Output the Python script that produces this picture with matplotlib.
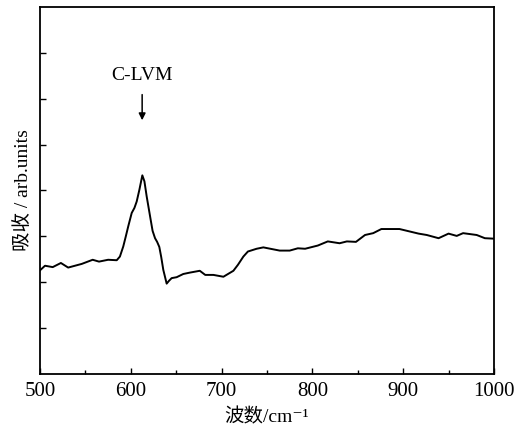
import matplotlib
matplotlib.use('Agg')
import matplotlib.pyplot as plt
import numpy as np

# spectrum
wavenumber = [500, 505.5, 514, 523, 531, 546, 558, 565, 575, 584.5, 588,
              591.7, 594.5, 597.2, 601, 604, 606.5, 609.5, 612.7, 615,
              617.5, 621.9, 624, 626.7, 629, 631.4, 633.5,
              635.8, 639.5, 642, 645, 650.5, 657.8, 665, 676, 682, 691, 702,
              713, 718, 724, 729, 738.6, 746, 764, 775, 784, 792, 806, 817,
              830, 838, 848, 858, 867, 876, 896, 917, 926, 939, 950, 959,
              966, 981, 990, 1000]
absorbance = [2.26, 2.36, 2.33, 2.42, 2.32, 2.40, 2.49, 2.45, 2.49, 2.48, 2.56,
              2.78, 3.00, 3.22, 3.51, 3.62, 3.76, 4.02, 4.33, 4.20,
              3.87, 3.36, 3.12, 2.96, 2.88, 2.77, 2.55,
              2.27, 1.97, 2.03, 2.09, 2.11, 2.18, 2.21, 2.25, 2.16, 2.16, 2.12,
              2.25, 2.38, 2.56, 2.67, 2.73, 2.76, 2.69, 2.69, 2.74, 2.73, 2.80, 2.89,
              2.85, 2.89, 2.88, 3.03, 3.07, 3.16, 3.16, 3.06, 3.03, 2.96, 3.06, 3.01,
              3.07, 3.03, 2.96, 2.95]

xticks = [500, 600, 700, 800, 900, 1000]
yticks = [1, 2, 3, 4, 5, 6, 7]
peak_label = 'C-LVM'
peak_pos = 612.5

plt.rcParams['font.family'] = ['Liberation Serif', 'Noto Sans CJK SC', 'DejaVu Sans']

fig = plt.figure(figsize=(5.17, 4.34), dpi=100)
ax = fig.add_axes([0.0774, 0.1382, 0.878, 0.8458])

ax.plot(wavenumber, absorbance, color='black', lw=1.4, solid_joinstyle='round')

ax.set_xlim(500, 1000)
ax.set_ylim(0, 8)
ax.set_xticks(xticks)
ax.set_xticks(np.arange(550, 1000, 100), minor=True)
ax.set_yticks(yticks)
ax.set_yticklabels([])
ax.tick_params(axis='both', which='major', direction='in', length=4, width=1,
               labelsize=15, pad=6, top=False, right=False)
ax.tick_params(axis='x', which='minor', direction='in', length=3, width=1, top=False)
for s in ax.spines.values():
    s.set_linewidth(1.3)

ax.set_xlabel('波数/cm⁻¹', fontsize=14, labelpad=5)
ax.set_ylabel('吸收 / arb.units', fontsize=14, labelpad=0)

ax.annotate('', xy=(peak_pos, 5.47), xytext=(peak_pos, 6.15),
            arrowprops=dict(arrowstyle='-|>', color='black', lw=1.1,
                            mutation_scale=10))
ax.text(peak_pos, 6.5, peak_label, ha='center', va='center', fontsize=14)

fig.savefig('out.png', dpi=100)
